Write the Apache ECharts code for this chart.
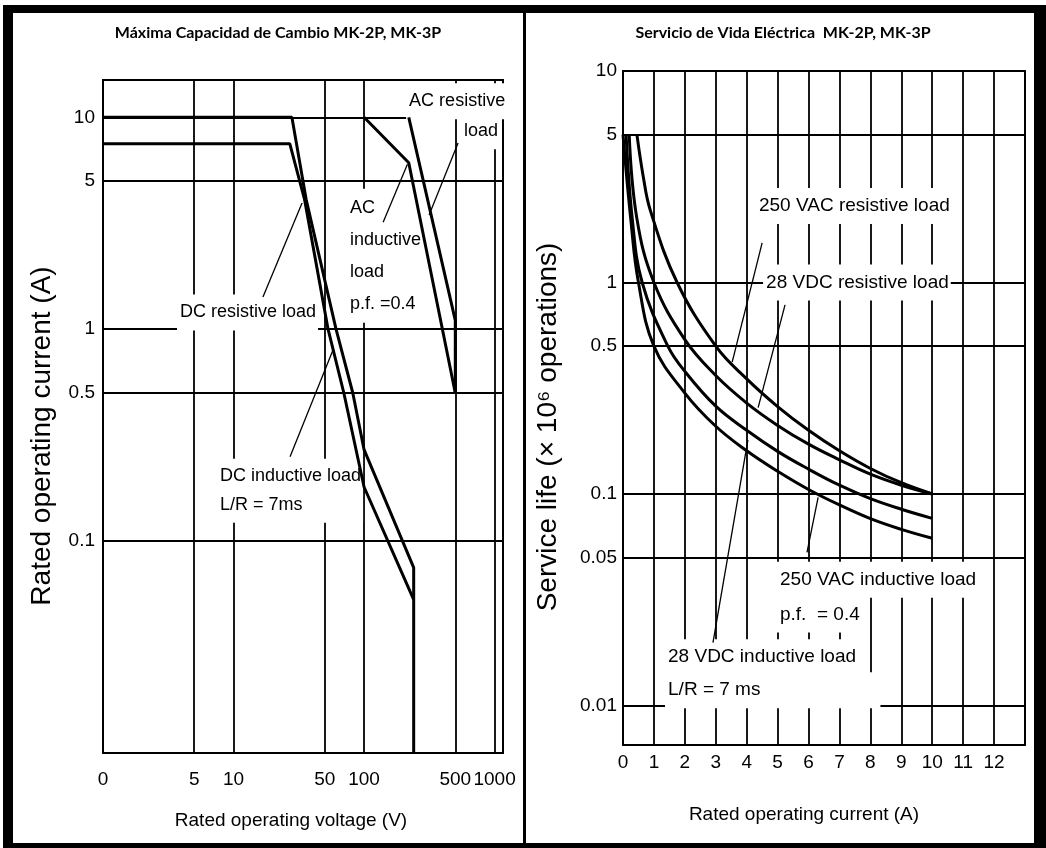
<!DOCTYPE html>
<html><head><meta charset="utf-8">
<script src="https://cdn.jsdelivr.net/npm/echarts@6/dist/echarts.min.js"></script>
<style>html,body{margin:0;padding:0;background:#fff}#c{width:1046px;height:848px}</style>
</head><body><div id="c"></div>
<script>
// ===== Left chart: Máxima Capacidad de Cambio =====
const voltLabelValues = [1, 5, 10, 50, 100, 500, 1000];
const voltLabelTexts  = ['0', '5', '10', '50', '100', '500', '1000'];
const voltGridValues  = [5, 10, 50, 100, 500, 1000];
const ampTickValues   = [0.1, 0.5, 1, 5, 10];
const ampTickTexts    = ['0.1', '0.5', '1', '5', '10'];

const dcResistive = [[1,10],[28,10],[36,4.1],[61,1],[82,0.5],[100,0.27],[240,0.075],[240,0.01]];
const dcInductive = [[1,7.5],[27,7.5],[35,4.1],[53,1],[70,0.5],[100,0.18],[240,0.053]];
const acResistive = [[220,10],[500,1.1],[500,0.5]];
const acInductive = [[100,10],[220,6.1],[500,0.5]];

const leftNotes = [
  ['AC resistive', 210, 11.9, 'left', 30],
  ['load', 1102, 8.6, 'right', 30],
  ['AC\ninductive\nload\np.f. =0.4', 74, 2.22, 'left', 32],
  ['DC resistive load', 44.4, 1.2, 'right', 30],
  ['DC inductive load\nL/R = 7ms', 7.47, 0.173, 'left', 29]
];
const leftPointers = [
  [[525,7.56],[315,3.46]],
  [[140,3.2],[215,6.0]],
  [[16.8,1.42],[33.5,3.94]],
  [[27.1,0.25],[57.9,0.8]]
];

// ===== Right chart: Servicio de Vida Eléctrica =====
const lifeTickValues = [0.01, 0.05, 0.1, 0.5, 1, 5, 10];
const lifeTickTexts  = ['0.01', '0.05', '0.1', '0.5', '1', '5', '10'];

const vac250Resistive = [[0.45,5],[0.65,3.2],[0.88,2.2],[1.75,1],[3,0.5],[4,0.35],[5,0.259],[6,0.2],[7,0.16],[8,0.132],[9,0.113],[10,0.1]];
const vdc28Resistive  = [[0.2,5],[0.45,2],[1.0,1],[2,0.537],[3,0.363],[4,0.269],[5,0.211],[6,0.172],[7,0.145],[8,0.124],[9,0.11],[10,0.1]];
const vdc28Inductive  = [[0.1,5],[0.3,2],[0.62,1],[1.45,0.5],[2,0.38],[3,0.26],[4,0.2],[5,0.159],[6,0.131],[7,0.11],[8,0.095],[9,0.0847],[10,0.0767]];
const vac250Inductive = [[0,5],[0.25,2],[0.5,1],[1.0,0.5],[2,0.3],[3,0.209],[4,0.16],[5,0.128],[6,0.105],[7,0.0887],[8,0.0764],[9,0.068],[10,0.0617]];

const rightNotes = [
  ['250 VAC resistive load', 4.30, 2.30, 'left', 30, 0],
  ['28 VDC resistive load', 4.53, 1.0, 'left', 30, 0],
  ['250 VAC inductive load', 4.98, 0.0393, 'left', 30, 0],
  ['p.f.  = 0.4', 4.98, 0.0269, 'left', 30, 0],
  ['28 VDC inductive load', 1.36, 0.0169, 'left', 30, 0],
  ['L/R = 7 ms', 1.36, 0.0118, 'left', 30, 118]
];
const rightPointers = [
  [[4.50,1.54],[3.53,0.42]],
  [[5.24,0.784],[4.37,0.256]],
  [[5.95,0.053],[6.31,0.0963]],
  [[2.91,0.0198],[4.04,0.18]]
];

const SANS = '"Liberation Sans", Arial, sans-serif';

function lookup(vals, texts) {
  return function (v) {
    for (let i = 0; i < vals.length; i++) {
      if (Math.abs(v - vals[i]) <= vals[i] * 1e-6) return texts[i];
    }
    return '';
  };
}

const curveStyle = { color: '#000', width: 3 };
function curve(data, xi, smooth) {
  return { type: 'line', xAxisIndex: xi, yAxisIndex: xi, data: data, showSymbol: false, symbol: 'none',
    smooth: smooth ? 0.4 : false, lineStyle: curveStyle, silent: true, z: 5 };
}
function pointer(seg, xi) {
  return { type: 'line', xAxisIndex: xi, yAxisIndex: xi, data: seg, symbol: 'none', showSymbol: false,
    lineStyle: { color: '#000', width: 1.3 }, silent: true, z: 4 };
}
function notes(list, xi, size) {
  return { type: 'scatter', xAxisIndex: xi, yAxisIndex: xi, symbolSize: 0, silent: true, z: 3,
    itemStyle: { opacity: 1 },
    data: list.map(n => ({ value: [n[1], n[2]], name: n[0],
      label: { show: true, position: 'inside', formatter: n[0], align: n[3], verticalAlign: 'middle',
        color: '#000', fontFamily: SANS, fontSize: size, lineHeight: n[4],
        backgroundColor: '#fff', padding: [3, 2 + (n[5] || 0), 3, 3] } })) };
}

const series = [
  curve(dcResistive, 0), curve(dcInductive, 0), curve(acResistive, 0), curve(acInductive, 0),
  curve(vac250Resistive, 1, true), curve(vdc28Resistive, 1, true), curve(vdc28Inductive, 1, true), curve(vac250Inductive, 1, true),
  notes(leftNotes, 0, 18), notes(rightNotes, 1, 19)
];
leftPointers.forEach(p => series.push(pointer(p, 0)));
rightPointers.forEach(p => series.push(pointer(p, 1)));

const gridLine = { show: true, lineStyle: { color: '#000', width: 1.8 } };

const chart = echarts.init(document.getElementById('c'), null, { renderer: 'canvas' });
chart.setOption({
  animation: false,
  backgroundColor: '#fff',
  grid: [
    { left: 103, top: 80, width: 400, height: 673, show: true, borderColor: '#000', borderWidth: 2, backgroundColor: 'transparent' },
    { left: 623, top: 71, width: 402, height: 674, show: true, borderColor: '#000', borderWidth: 2, backgroundColor: 'transparent' }
  ],
  xAxis: [
    { type: 'log', gridIndex: 0, logBase: 10, min: 1, max: 1160,
      axisLine: { show: false }, axisTick: { show: false, customValues: voltGridValues },
      axisLabel: { customValues: voltLabelValues, formatter: lookup(voltLabelValues, voltLabelTexts),
        hideOverlap: false, showMaxLabel: true, showMinLabel: true,
        color: '#000', fontFamily: SANS, fontSize: 19, margin: 17 },
      splitLine: gridLine },
    { type: 'value', gridIndex: 1, min: 0, max: 13, interval: 1,
      axisLine: { show: false }, axisTick: { show: false },
      axisLabel: { formatter: v => (v <= 12 ? String(v) : ''), color: '#000', fontFamily: SANS, fontSize: 19, margin: 8 },
      splitLine: gridLine }
  ],
  yAxis: [
    { type: 'log', gridIndex: 0, logBase: 10, min: 0.01, max: 15,
      axisLine: { show: false }, axisTick: { show: false, customValues: ampTickValues },
      axisLabel: { customValues: ampTickValues, formatter: lookup(ampTickValues, ampTickTexts),
        color: '#000', fontFamily: SANS, fontSize: 19, margin: 8 },
      splitLine: gridLine },
    { type: 'log', gridIndex: 1, logBase: 10, min: 0.0065, max: 10,
      axisLine: { show: false }, axisTick: { show: false, customValues: lifeTickValues },
      axisLabel: { customValues: lifeTickValues, formatter: lookup(lifeTickValues, lifeTickTexts),
        color: '#000', fontFamily: SANS, fontSize: 19, margin: 6 },
      splitLine: gridLine }
  ],
  series: series,
  graphic: [
    { type: 'text', x: 278, y: 33, style: { text: 'Máxima Capacidad de Cambio MK-2P, MK-3P', fill: '#000',
      font: 'bold 16px Lato, "Liberation Sans", sans-serif', textAlign: 'center', textVerticalAlign: 'middle' } },
    { type: 'text', x: 783, y: 33, style: { text: 'Servicio de Vida Eléctrica  MK-2P, MK-3P', fill: '#000',
      font: 'bold 16px Lato, "Liberation Sans", sans-serif', textAlign: 'center', textVerticalAlign: 'middle' } },
    { type: 'text', x: 42, y: 436, rotation: Math.PI / 2, style: { text: 'Rated operating current (A)', fill: '#000',
      font: '28px ' + SANS, textAlign: 'center', textVerticalAlign: 'middle' } },
    { type: 'text', x: 548, y: 427, rotation: Math.PI / 2, style: { text: 'Service life (× 10⁶ operations)', fill: '#000',
      font: '28px ' + SANS, textAlign: 'center', textVerticalAlign: 'middle' } },
    { type: 'text', x: 291, y: 821, style: { text: 'Rated operating voltage (V)', fill: '#000',
      font: '19px ' + SANS, textAlign: 'center', textVerticalAlign: 'middle' } },
    { type: 'text', x: 804, y: 815, style: { text: 'Rated operating current (A)', fill: '#000',
      font: '19px ' + SANS, textAlign: 'center', textVerticalAlign: 'middle' } },
    { type: 'rect', shape: { x: 3, y: 5, width: 1043, height: 8 }, style: { fill: '#000' } },
    { type: 'rect', shape: { x: 3, y: 5, width: 10, height: 843 }, style: { fill: '#000' } },
    { type: 'rect', shape: { x: 1034, y: 5, width: 12, height: 843 }, style: { fill: '#000' } },
    { type: 'rect', shape: { x: 3, y: 843, width: 1043, height: 5 }, style: { fill: '#000' } },
    { type: 'rect', shape: { x: 523, y: 13, width: 3, height: 830 }, style: { fill: '#000' } }
  ]
});
</script>
</body></html>
